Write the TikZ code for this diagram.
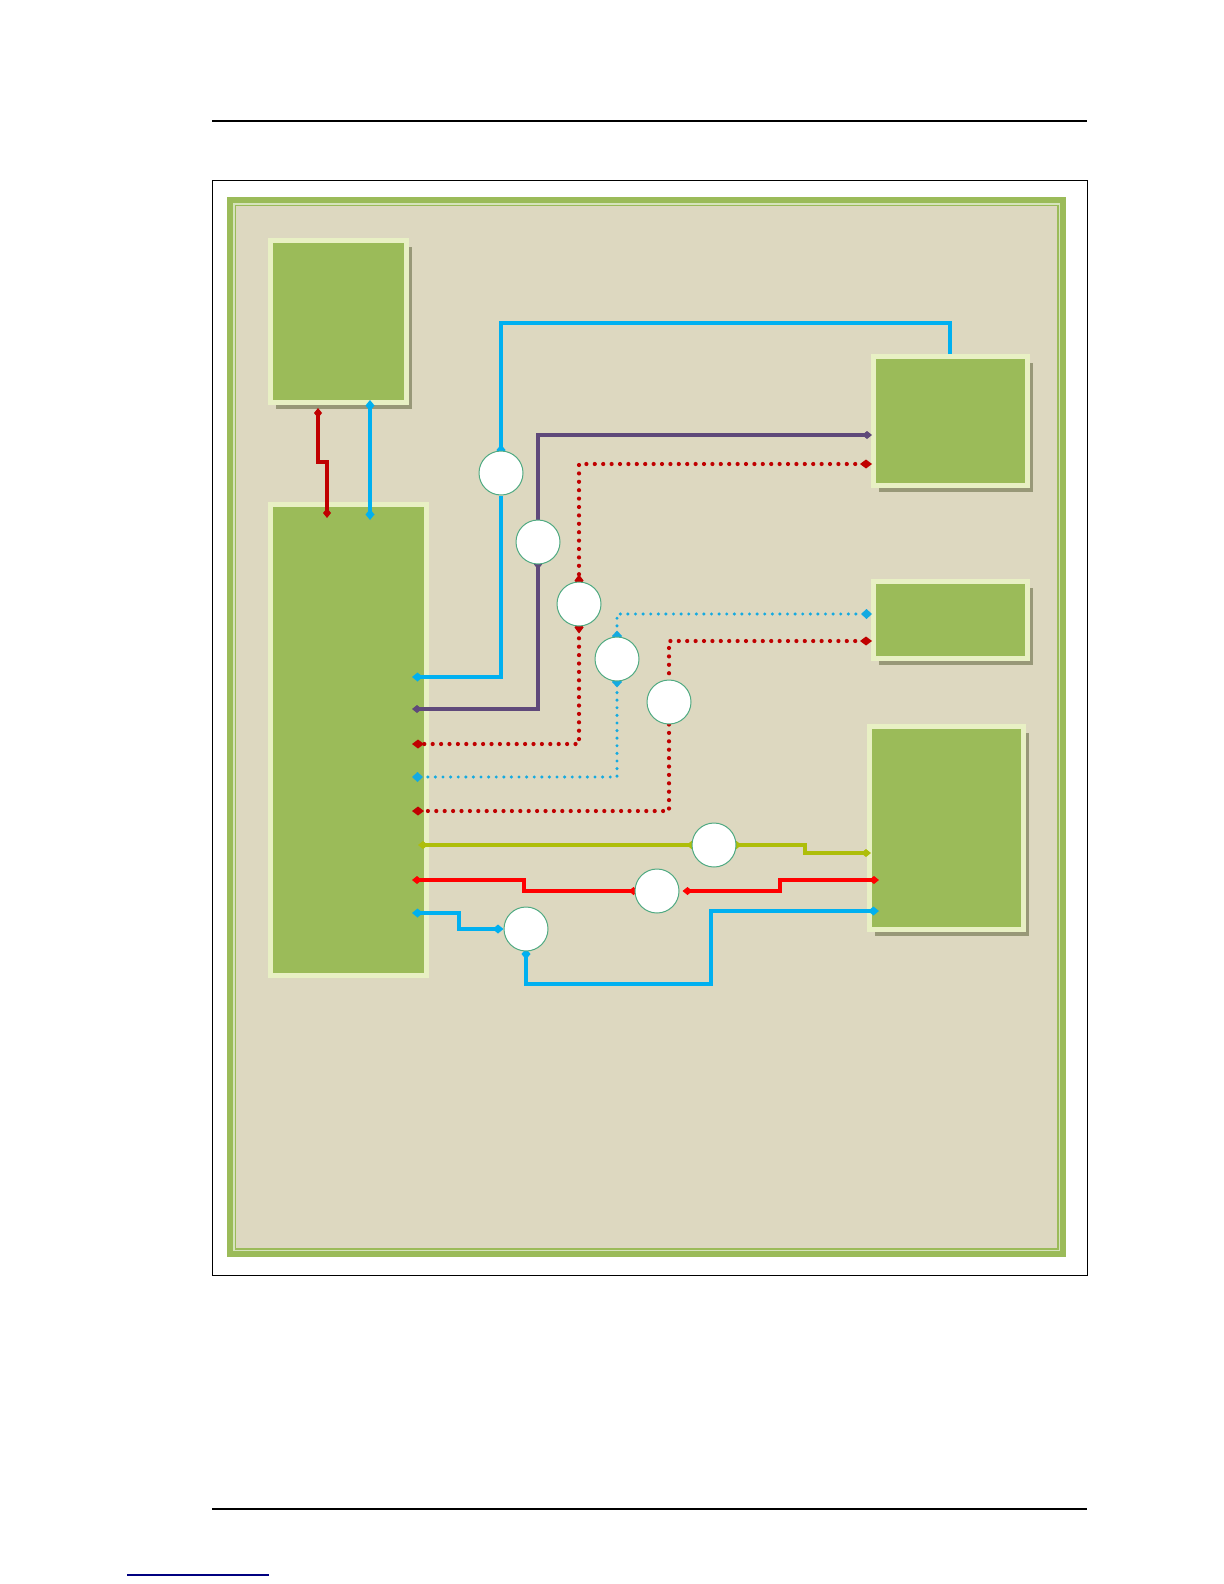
\documentclass[tikz,border=0pt]{standalone}
\usetikzlibrary{arrows.meta,calc,shadows}
\pgfdeclarelayer{bg}\pgfdeclarelayer{fg}\pgfsetlayers{bg,main,fg}
\definecolor{beige}{RGB}{221,216,192}
\definecolor{frgreen}{RGB}{155,187,89}
\definecolor{frlight}{RGB}{214,227,188}
\definecolor{boxgreen}{RGB}{155,187,89}
\definecolor{boxedge}{RGB}{232,240,196}
\definecolor{shadowc}{RGB}{152,152,120}
\definecolor{cblue}{RGB}{0,176,240}
\definecolor{cbdot}{RGB}{20,170,225}
\definecolor{cpurple}{RGB}{95,73,122}
\definecolor{cdred}{RGB}{192,0,0}
\definecolor{cred}{RGB}{255,0,0}
\definecolor{cyel}{RGB}{174,190,10}
\definecolor{ccirc}{RGB}{80,170,130}
\definecolor{linkc}{RGB}{0,0,128}
\begin{document}
\begin{tikzpicture}[x=0.5pt,y=-0.5pt,
  box/.style={draw=boxedge,line width=2.5pt,fill=boxgreen,inner sep=0pt},
  shbox/.style={box,drop shadow={shadow xshift=2.5pt,shadow yshift=-3pt,fill=shadowc,opacity=1}},
  circ/.style={circle,draw=ccirc,line width=0.5pt,fill=white,minimum size=22pt,inner sep=0pt},
  bline/.style={draw=cblue,line width=2.2pt,>={Diamond[length=5.5pt,width=4.5pt]}},
  pline/.style={draw=cpurple,line width=1.9pt,>={Diamond[length=5pt,width=4pt]}},
  dredl/.style={draw=cdred,line width=1.9pt,>={Diamond[length=5pt,width=4pt]}},
  rline/.style={draw=cred,line width=1.9pt,>={Diamond[length=5pt,width=4pt]}},
  yline/.style={draw=cyel,line width=1.9pt,>={Diamond[length=5pt,width=4pt]}},
  rdot/.style={draw=cdred,line width=2.1pt,line cap=round,dash pattern=on 0pt off 4.2pt,>={Diamond[length=6pt,width=4.5pt]}},
  bdot/.style={draw=cbdot,line width=1.7pt,line cap=round,dash pattern=on 0pt off 3.8pt,>={Diamond[length=5.5pt,width=5pt]}}
]
\useasboundingbox (0,0) rectangle (1224,1584);
% page rules
\draw[line width=0.6pt] (212,121) coordinate (h1) -- (1087,121) coordinate (h2);
\draw[line width=0.6pt] (212,1509) coordinate (f1) -- (1087,1509) coordinate (f2);
\draw[linkc,line width=0.6pt] (127,1575) coordinate (k1) -- (269,1575) coordinate (k2);
\begin{pgfonlayer}{bg}
  \draw[line width=0.5pt] (212,180.5) rectangle (1087,1275);
  \fill[frgreen] (227,197) rectangle (1066,1257);
  \fill[frlight] (233,203) rectangle (1060,1251);
  \fill[frgreen] (234.5,204.5) rectangle (1058.5,1249.5);
  \fill[beige] (236,206) rectangle (1057,1248);
  \node[shbox,minimum width=68pt,minimum height=81pt] (A) at (338.5,321.5) {};
  \node[box,minimum width=78pt,minimum height=235.5pt] (B) at (348.5,740) {};
  \node[shbox,minimum width=77pt,minimum height=64.5pt] (C1) at (950.5,421) {};
  \node[shbox,minimum width=77pt,minimum height=38.5pt] (C2) at (950.5,620) {};
  \node[shbox,minimum width=77pt,minimum height=101.5pt] (C3) at (946.5,828) {};
\end{pgfonlayer}
\begin{pgfonlayer}{fg}
  \node[circ] (c1) at (501,473) {};
  \node[circ] (c2) at (538,542) {};
  \node[circ] (c3) at (579,604) {};
  \node[circ] (c4) at (617,659) {};
  \node[circ] (c5) at (669,702) {};
  \node[circ] (c6) at (714,845) {};
  \node[circ] (c7) at (657,891) {};
  \node[circ] (c8) at (526,929) {};
\end{pgfonlayer}
\coordinate (Bin) at ($(B.east)+(-17,0)$);
% A - B
\draw[dredl,<->] ($(A.south -| 318,0)+(0,3)$) -- (318,462) -- (327,462) -- ($(B.north -| 327,0)+(0,16)$);
\draw[bline,<->] ($(A.south -| 370,0)+(0,-5)$) -- ($(B.north -| 370,0)+(0,18)$);
% blue to C1 top
\draw[bline,->] (C1.north -| 950,0) -- (950,323) -| ($(c1.north)+(0,5)$);
\draw[bline,->] (c1.south) |- (Bin |- 0,677);
% purple
\draw[pline,<->] (Bin |- 0,709) -| ($(c2.south)+(0,-5)$);
\draw[pline,->] (c2.north) |- ($(C1.west |- 0,435)+(1,0)$);
% dark red dotted to C1
\draw[rdot,<->] ($(C1.west |- 0,464)+(1,0)$) -| ($(c3.north)+(0,5)$);
\draw[rdot,<->] ($(c3.south)+(0,-5)$) |- (Bin |- 0,744);
% blue dotted to C2
\draw[bdot,<->] ($(C2.west |- 0,614)+(1,0)$) -| ($(c4.north)+(0,5)$);
\draw[bdot,<->] ($(c4.south)+(0,-5)$) |- (Bin |- 0,777);
% dark red dotted to C2
\draw[rdot,<-] ($(C2.west |- 0,641)+(1,0)$) -| (c5.north);
\draw[rdot,->] (c5.south) |- (Bin |- 0,811);
% yellow-green
\draw[yline,<->] ($(Bin |- c6.west)+(6,0)$) -- ($(c6.west)+(5,0)$);
\draw[yline,<->] ($(c6.east)+(-5,0)$) -- (805,0 |- c6.east) |- ($(C3.west |- 0,853)+(4,0)$);
% red
\draw[rline,<->] ($(C3.west |- 0,880)+(12,0)$) -- ++(-99,0) |- ($(c7.east)+(3,0)$);
\draw[rline,<->] ($(c7.west)+(4,0)$) -- (524,0 |- c7.west) |- (Bin |- 0,880);
% blue bottom
\draw[bline,<->] ($(C3.west |- 0,911)+(12,0)$) -- ++(-168,0) -- ++(0,73) -| ($(c8.south)+(0,-3)$);
\draw[bline,<->] (c8.west) -- (459,0 |- c8.west) |- (Bin |- 0,913);
\end{tikzpicture}
\end{document}
